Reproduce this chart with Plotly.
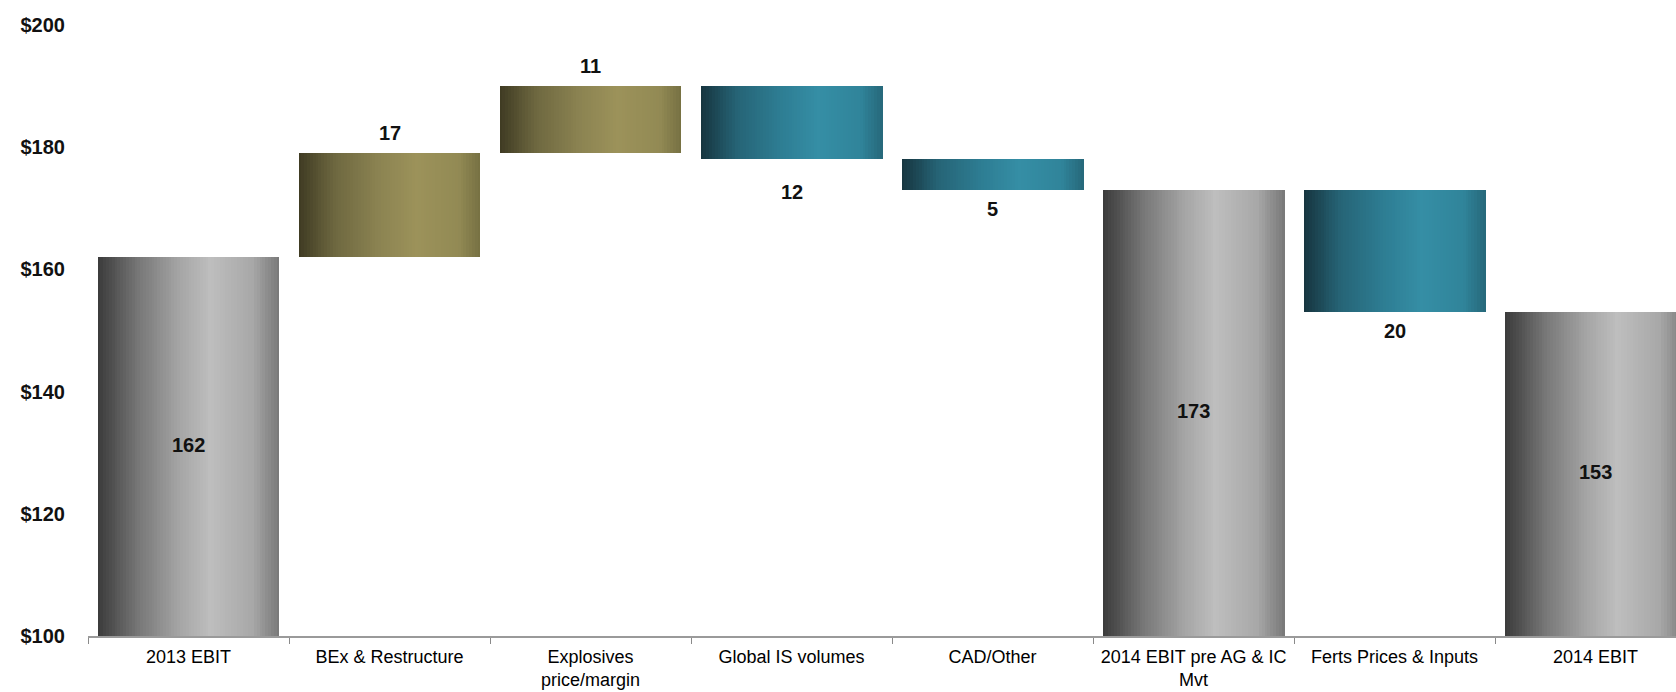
import plotly.graph_objects as go

# EBIT bridge, 2013 -> 2014 ($m)
categories = [
    "2013 EBIT",
    "BEx & Restructure",
    "Explosives<br>price/margin",
    "Global IS volumes",
    "CAD/Other",
    "2014 EBIT pre AG & IC<br>Mvt",
    "Ferts Prices & Inputs",
    "2014 EBIT",
]
values = [162, 17, 11, -12, -5, 173, -20, 153]
kinds = ["total", "delta", "delta", "delta", "delta", "total", "delta", "total"]
label_text = ["162", "17", "11", "12", "5", "173", "20", "153"]
y_tick_vals = [100, 120, 140, 160, 180, 200]
y_tick_text = ["$100", "$120", "$140", "$160", "$180", "$200"]

Y_MIN, Y_MAX = 100, 200
BAR_WIDTH = 0.905
N_SLICES = 64

# horizontal shading stops for each bar family
gradients = {
    "total": [(0.0, (58, 58, 58)), (0.22, (118, 118, 118)), (0.45, (165, 165, 165)),
              (0.62, (190, 190, 190)), (0.85, (168, 168, 168)), (1.0, (120, 120, 120))],
    "up": [(0.0, (62, 58, 34)), (0.2, (110, 104, 64)), (0.45, (140, 132, 82)),
           (0.65, (156, 146, 90)), (0.88, (146, 138, 84)), (1.0, (118, 112, 66))],
    "down": [(0.0, (22, 52, 62)), (0.2, (38, 100, 118)), (0.45, (46, 126, 148)),
             (0.65, (53, 142, 165)), (0.88, (48, 132, 154)), (1.0, (38, 104, 122))],
}


def shade(stops, t):
    for (p0, c0), (p1, c1) in zip(stops, stops[1:]):
        if p0 <= t <= p1:
            f = (t - p0) / (p1 - p0)
            r, g, b = (round(a + (b_ - a) * f) for a, b_ in zip(c0, c1))
            return f"rgb({r},{g},{b})"
    r, g, b = stops[-1][1]
    return f"rgb({r},{g},{b})"


# running bridge: bases and heights of every bar
bases, heights, families = [], [], []
level = 0
for v, k in zip(values, kinds):
    if k == "total":
        bases.append(0)
        heights.append(v)
        families.append("total")
        level = v
    else:
        if v >= 0:
            bases.append(level)
            heights.append(v)
            families.append("up")
        else:
            bases.append(level + v)
            heights.append(-v)
            families.append("down")
        level += v

fig = go.Figure()
slice_w = BAR_WIDTH / N_SLICES
for i in range(N_SLICES):
    t = (i + 0.5) / N_SLICES
    last = i == N_SLICES - 1
    fig.add_trace(go.Bar(
        x=categories,
        y=heights,
        base=bases,
        width=slice_w * (1.0 if last else 1.08),
        offset=-BAR_WIDTH / 2 + i * slice_w,
        marker=dict(color=[shade(gradients[f], t) for f in families], line=dict(width=0)),
        hoverinfo="skip",
        showlegend=False,
    ))

# value labels
label_font = dict(family="Liberation Sans, Arial, sans-serif", size=20, color="#111111")
extra_gap = [0, 0, 0, 14, 0, 0, 0, 0]
for cat, k, b, h, v, txt, gap in zip(categories, kinds, bases, heights, values, label_text, extra_gap):
    if k == "total":
        fig.add_annotation(x=cat, y=(Y_MIN + b + h) / 2, text=f"<b>{txt}</b>",
                           showarrow=False, font=label_font, yanchor="middle", yshift=2)
    elif v >= 0:
        fig.add_annotation(x=cat, y=b + h, text=f"<b>{txt}</b>", showarrow=False,
                           font=label_font, yanchor="bottom", yshift=7 + gap)
    else:
        fig.add_annotation(x=cat, y=b, text=f"<b>{txt}</b>", showarrow=False,
                           font=label_font, yanchor="top", yshift=-6 - gap)

fig.update_layout(
    width=1676,
    height=692,
    margin=dict(l=88, r=0, t=25, b=56),
    barmode="overlay",
    bargap=0,
    plot_bgcolor="white",
    paper_bgcolor="white",
    xaxis=dict(
        type="category",
        range=[-0.5, 7.40],
        automargin=False,
        showline=True,
        linecolor="#9a9a9a",
        linewidth=2,
        ticks="outside",
        tickson="boundaries",
        ticklen=6,
        tickwidth=1,
        tickcolor="#8a8a8a",
        showgrid=False,
        ticklabelstandoff=3,
        tickfont=dict(family="Liberation Sans, Arial, sans-serif", size=18, color="#000000"),
        fixedrange=True,
    ),
    yaxis=dict(
        range=[Y_MIN, Y_MAX],
        tickvals=y_tick_vals,
        ticktext=y_tick_text,
        showgrid=False,
        zeroline=False,
        showline=False,
        ticks="",
        automargin=False,
        ticklabelstandoff=22,
        tickfont=dict(family="Liberation Sans, Arial, sans-serif", size=20, color="#111111", weight="bold"),
        fixedrange=True,
    ),
)

fig.write_html("out.html")
